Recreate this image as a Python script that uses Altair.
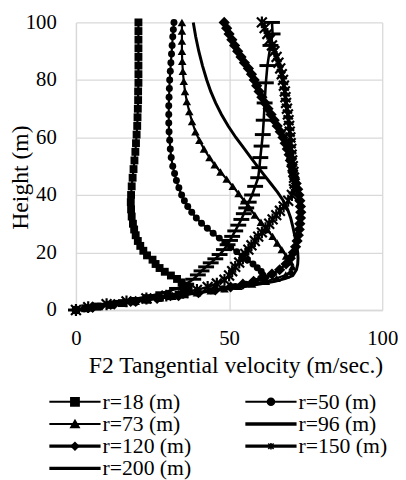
import altair as alt
import pandas as pd

names = ["r=18 (m)", "r=50 (m)", "r=73 (m)", "r=96 (m)", "r=120 (m)", "r=150 (m)", "r=200 (m)"]

h18 = [0, 0.6, 1.2, 1.8, 2.4, 3.0, 3.6, 4.2, 4.8, 5.4, 6.0, 6.7, 7.5, 8.5, 9.6, 10.8, 12.0, 13.3, 14.6, 16.0,
       17.5, 19.0, 20.6, 22.3, 24.0, 26.0, 28.0, 30.0, 32.5, 35.0, 37.5, 40, 43, 46, 49, 52, 55, 58, 61, 64,
       67, 70, 73, 76, 79, 82, 85, 88, 91, 94, 97, 100]
v18 = [0, 3, 7, 11, 15, 19, 23, 27, 30.5, 33.5, 35.5, 36.5, 36.8, 36, 34.5, 33, 31, 29, 27.3, 26,
       25, 23.2, 22, 21, 20.2, 19.5, 19, 18.6, 18.2, 18, 17.9, 18, 18.2, 18.5, 18.8, 19.1, 19.4, 19.6, 19.8, 20,
       20.1, 20.2, 20.3, 20.3, 20.4, 20.4, 20.4, 20.4, 20.4, 20.4, 20.4, 20.4]

h50 = [0, 0.6, 1.2, 1.8, 2.4, 3.0, 3.6, 4.2, 4.8, 5.4, 6.0, 6.7, 7.4, 8.2, 9.0, 10, 11, 12.2, 13.4, 14.7,
       16, 17.4, 18.8, 20.3, 21.8, 23.4, 25, 26.7, 28.4, 30.2, 32, 34, 36, 38, 40, 42.5, 45, 47.5, 50, 53,
       56, 59, 62, 65, 68, 71, 74, 77, 80, 83, 86, 89, 92, 95, 97.5, 100]
v50 = [0, 3.5, 7.5, 11.5, 15.5, 19.5, 23.5, 27.5, 31.5, 35.5, 39.5, 44, 48, 52, 55.5, 58.5, 60.3, 61, 60.5, 59.2,
       57.8, 56, 54.3, 52.5, 50.5, 48.6, 46.8, 44.8, 42.9, 41, 39.3, 37.8, 36.5, 35.4, 34.5, 33.6, 32.8, 32.2, 31.6, 31.1,
       30.8, 30.6, 30.4, 30.3, 30.3, 30.3, 30.4, 30.5, 30.6, 30.8, 31, 31.2, 31.4, 31.6, 31.8, 32]

h73 = [0, 0.6, 1.2, 1.8, 2.4, 3.0, 3.6, 4.2, 4.8, 5.4, 6.0, 6.7, 7.4, 8.2, 9.0, 10, 11, 12.2, 13.5, 15,
       16.8, 18.8, 21, 23.3, 25.6, 28, 30.5, 33, 35.5, 38, 40.5, 43, 45.5, 48, 50.5, 53, 56, 59, 62, 65.5,
       69, 72.5, 76, 79.5, 83, 86.5, 90, 93.5, 97, 100]
v73 = [0, 3.5, 7.5, 11.5, 15.5, 19.5, 23.5, 27.5, 31.5, 35.5, 39.5, 44, 48.5, 53, 57.5, 62, 65.5, 68.5, 70.2, 70.7,
       70, 68.6, 67.2, 65.7, 64.2, 62.4, 60.4, 58.4, 56.6, 54.9, 53.1, 51.2, 49.2, 47.2, 45.3, 43.6, 41.8, 40.3, 39, 37.9,
       37, 36.2, 35.6, 35.2, 34.9, 34.7, 34.6, 34.6, 34.6, 34.6]

h96 = [0, 1, 2, 3, 4, 5, 6, 7, 8, 9, 10, 11, 12, 14, 16, 18, 20, 23, 26, 29, 32, 35, 38, 41, 44, 47, 50,
       53, 56, 60, 64, 68, 72, 76, 80, 85, 90, 95, 100]
v96 = [0, 5, 12, 19, 26, 33, 40, 47, 54, 60, 65, 68.5, 70.8, 72, 72.4, 72.5, 72.4, 72, 71.4, 70.8, 70.1, 69.1, 67.7,
       65.8, 63.6, 61.4, 59.2, 57.1, 55, 52.2, 49.7, 47.5, 45.6, 44, 42.7, 41.3, 40.1, 39.1, 38.3]

h120 = [0, 1, 2, 3, 4, 5, 6, 7, 8, 9, 10, 11.2, 12.5, 14, 16, 18, 20, 22, 24, 26, 28, 30, 32, 34, 36, 38, 40,
        42, 44, 46, 48, 50, 52, 54, 56, 58, 60, 62, 64, 66, 68, 70, 72, 74, 76, 78, 80, 82, 84, 86, 88, 90,
        92, 94, 96, 98, 100]
v120 = [0, 5.5, 12.5, 19.5, 26.5, 33.5, 40, 45.5, 50.5, 54.5, 58, 61.5, 64, 66.5, 68.6, 70, 71, 71.7, 72.2, 72.6,
        72.9, 73.1, 73.3, 73.4, 73.3, 73.1, 72.8, 72.4, 71.9, 71.3, 70.8, 70.4, 70, 69.6, 69, 68.3, 67.6, 66.7, 65.7,
        64.7, 63.7, 62.7, 61.7, 60.7, 59.8, 59, 58.2, 57.3, 56.3, 55, 53.9, 52.8, 51.8, 50.9, 50, 49.2, 48.4]

h150 = [0, 1, 2, 3, 4, 5, 6, 7, 8, 9.2, 10.5, 12, 13.5, 15, 16.5, 18, 19.5, 21, 22.5, 24, 25.5, 27, 28.5, 30,
        31.5, 33, 34.5, 36, 38, 40, 42, 44, 46, 48, 50, 52, 54, 56, 58, 60, 62, 64, 66, 68, 70, 72, 74, 76,
        78, 80, 82, 84, 86, 88, 90, 92, 94, 96, 98, 100]
v150 = [0, 4, 10, 16.5, 23, 29.5, 35, 39.5, 43, 46, 48.5, 50, 51, 52, 53.3, 54.5, 55.3, 56.3, 57.3, 58.4, 59.5,
        60.7, 61.9, 63.1, 64.2, 65.4, 66.6, 67.8, 69.3, 70.5, 71.2, 71.4, 71.2, 71, 70.8, 70.6, 70.4, 70.3, 70.1, 70,
        69.8, 69.6, 69.4, 69.2, 68.9, 68.6, 68.4, 68.2, 67.9, 67.6, 67.2, 66.7, 66.1, 65.5, 64.8, 64, 63.3, 62.5,
        61.6, 60.7]

h200 = [0, 1, 2, 3, 4, 5, 6, 7.5, 9, 10.7, 12.2, 13.6, 15, 16.4, 17.8, 19.3, 21, 22.7, 24.2, 25.6, 27.5, 29.5,
        31.5, 33.5, 35.5, 37.5, 40, 43, 46, 49.5, 53, 57, 61, 66, 72, 79, 85, 92, 96, 100]
v200 = [0, 4.5, 9.5, 15, 20, 24.5, 28.5, 33, 36, 38.3, 39.8, 41, 42.5, 44, 45.5, 46.9, 48.3, 49.5, 50.3, 51, 52, 53,
        54, 54.8, 55.6, 56.4, 57.5, 58.5, 59.5, 59.9, 60.2, 60.6, 61, 61.3, 61.6, 62, 62.5, 63.5, 64.2, 64]

heights = [h18, h50, h73, h96, h120, h150, h200]
speeds = [v18, v50, v73, v96, v120, v150, v200]

x_ticks = [0, 50, 100]
y_ticks = [0, 20, 40, 60, 80, 100]

STAR = "M-1,-1L1,1M-1,1L1,-1M0,-1.2L0,1.2"
DASH = "M-1,0L1,0"
marker_shape = ["square", "circle", "triangle-up", "", "diamond", STAR, DASH]
marker_size = [64, 50, 75, 0, 130, 100, 260]
marker_filled = [True, True, True, False, True, False, False]
marker_sw = [1, 1, 1, 1, 1, 2.2, 3]
line_w = [2.2, 2.2, 2.2, 3, 2.6, 2.6, 2.6]

legend_col = [0, 1, 0, 1, 0, 1, 0]
legend_row = [0, 0, 1, 1, 2, 2, 3]
legend_lw = [2, 2, 2, 3.4, 3.4, 3.4, 3.4]
legend_size = [70, 50, 70, 0, 55, 30, 0]
legend_fill = ["black", "black", "black", "transparent", "black", "transparent", "transparent"]

FONT = "Liberation Serif"
W, H = 311, 292

rows = []
for name, hs, vs in zip(names, heights, speeds):
    for i, (hh, vv) in enumerate(zip(hs, vs)):
        rows.append({"series": name, "v": vv, "h": hh, "i": i})
df = pd.DataFrame(rows)

X = alt.X("v:Q", scale=alt.Scale(domain=[0, 100], nice=False, zero=False),
          axis=alt.Axis(values=x_ticks, title="F2 Tangential velocity (m/sec.)", grid=True,
                        gridColor="#d9d9d9", gridWidth=1.3, domainColor="#d9d9d9", domainWidth=1.3,
                        ticks=False, labelFlush=False, labelFont=FONT, labelFontSize=21,
                        labelColor="black", labelPadding=18, titleFont=FONT, titleFontSize=24,
                        titleFontWeight="normal", titleColor="black", titlePadding=5,
                        titleX=162, titleAlign="center"))
Y = alt.Y("h:Q", scale=alt.Scale(domain=[0, 100], nice=False, zero=False),
          axis=alt.Axis(values=y_ticks, title="Height (m)", grid=True,
                        gridColor="#d9d9d9", gridWidth=1.3, domainColor="#d9d9d9", domainWidth=1.3,
                        ticks=False, labelFlush=False, labelFont=FONT, labelFontSize=21,
                        labelColor="black", labelPadding=20, titleFont=FONT, titleFontSize=24,
                        titleFontWeight="normal", titleColor="black", titleAngle=270,
                        titleBaseline="middle", titleAlign="center", titleX=-56, titleY=157))

base = alt.Chart(df)
layers = []
for k, name in enumerate(names):
    sub = base.transform_filter(alt.datum.series == name)
    layers.append(sub.mark_line(color="black", strokeWidth=line_w[k], interpolate="linear")
                  .encode(x=X, y=Y, order=alt.Order("i:Q")))
    if marker_shape[k]:
        layers.append(sub.mark_point(shape=marker_shape[k], size=marker_size[k], filled=marker_filled[k],
                                     color="black", opacity=1, strokeWidth=marker_sw[k])
                      .encode(x=X, y=Y))
main = alt.layer(*layers).properties(width=W, height=H)

leg_df = pd.DataFrame({"series": names, "col": legend_col, "row": legend_row, "lw": legend_lw,
                       "shape": [s if s else "circle" for s in marker_shape], "lsize": legend_size,
                       "fillc": legend_fill})
leg = alt.Chart(leg_df).transform_calculate(
    xa="datum.col * 199 - 27", xb="datum.col * 199 + 25",
    xm="datum.col * 199 - 1", xt="datum.col * 199 + 27")
LXs = alt.Scale(domain=[0, W], nice=False, zero=False)
LY = alt.Y("row:Q", scale=alt.Scale(domain=[-0.5, 3.5], reverse=True, nice=False, zero=False), axis=None)
l_rule = leg.mark_rule(color="black").encode(
    x=alt.X("xa:Q", scale=LXs, axis=None), x2="xb:Q", y=LY,
    strokeWidth=alt.StrokeWidth("lw:Q", scale=None))
l_pts = leg.transform_filter(alt.datum.lsize > 0).mark_point(color="black", opacity=1, strokeWidth=1.6).encode(
    x=alt.X("xm:Q", scale=LXs, axis=None), y=LY,
    shape=alt.Shape("shape:N", scale=None), size=alt.Size("lsize:Q", scale=None),
    fill=alt.Fill("fillc:N", scale=None))
l_txt = leg.mark_text(align="left", baseline="middle", font=FONT, fontSize=22, color="black").encode(
    x=alt.X("xt:Q", scale=LXs, axis=None), y=LY, text="series:N")
legend = alt.layer(l_rule, l_pts, l_txt).properties(width=W, height=90)

chart = alt.vconcat(main, legend, spacing=14).properties(
    padding={"left": 1, "top": 0, "right": 0, "bottom": 0}
).configure_view(stroke=None)

chart.save("out.html", embed_options={"renderer": "svg", "actions": False})
